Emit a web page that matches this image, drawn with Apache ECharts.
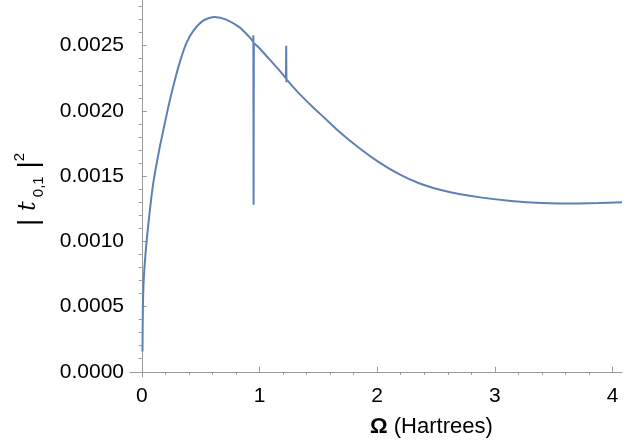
<!DOCTYPE html>
<html>
<head>
<meta charset="utf-8">
<script src="https://cdn.jsdelivr.net/npm/echarts@6/dist/echarts.min.js"></script>
<style>
  html, body { margin: 0; padding: 0; background: #fff; }
  #main { width: 634px; height: 446px; }
</style>
</head>
<body>
<div id="main"></div>
<script>
// values
var omega = [0.006, 0.009, 0.014, 0.023, 0.035, 0.051, 0.079, 0.10, 0.121, 0.15, 0.178, 0.223, 0.265, 0.322, 0.379,
  0.435, 0.519, 0.619, 0.718, 0.831, 0.90, 0.930,
  0.946, 0.948, 0.950, 0.952, 1.0, 1.08, 1.169, 1.225, 1.227, 1.229, 1.231, 1.34, 1.452, 1.56, 1.678, 1.847,
  2.017, 2.186, 2.356, 2.525, 2.695, 2.89, 3.1, 3.31, 3.6, 3.88, 4.08];
var t01sq = [0.000155, 0.00045, 0.00065, 0.00080, 0.00094, 0.00109, 0.00132, 0.00146, 0.00157, 0.00171, 0.00183, 0.00202, 0.00218, 0.00237, 0.00252,
  0.00261, 0.00269, 0.00272, 0.00270, 0.00264, 0.00258, 0.00255,
  0.00253, 0.00258, 0.00128, 0.00252, 0.00248, 0.00240, 0.00231, 0.00225, 0.00250, 0.00222, 0.00224, 0.00213, 0.00203, 0.00194, 0.00184, 0.001715,
  0.001605, 0.001515, 0.001445, 0.001397, 0.001363, 0.001335, 0.001313, 0.001298, 0.00129, 0.001294, 0.0013];
// index ranges of the narrow spikes (drawn without smoothing)
var spikes = [[22, 25], [29, 32]];

var xMajor = [0, 1, 2, 3, 4];
var xMinor = [0.2, 0.4, 0.6, 0.8, 1.2, 1.4, 1.6, 1.8, 2.2, 2.4, 2.6, 2.8, 3.2, 3.4, 3.6, 3.8];
var yMajor = [0, 0.0005, 0.001, 0.0015, 0.002, 0.0025];
var yMinor = [0.0001, 0.0002, 0.0003, 0.0004, 0.0006, 0.0007, 0.0008, 0.0009, 0.0011, 0.0012, 0.0013, 0.0014,
  0.0016, 0.0017, 0.0018, 0.0019, 0.0021, 0.0022, 0.0023, 0.0024, 0.0026, 0.0027, 0.0028];

var pts = omega.map(function (x, i) { return [x, t01sq[i]]; });

var axisGray = '#9a9a9a';
var font = 'Liberation Sans, Arial, sans-serif';
var lineColor = '#5e81b5';

// split the curve so the smooth parts are smoothed and the spikes stay sharp
var series = [];
var start = 0;
function seg(a, b, smooth) {
  series.push({
    type: 'line', data: pts.slice(a, b + 1), showSymbol: false, smooth: smooth,
    lineStyle: { color: lineColor, width: 2 }, clip: true
  });
}
spikes.forEach(function (s) {
  seg(start, s[0], 0.25);
  seg(s[0], s[1], false);
  start = s[1];
});
seg(start, pts.length - 1, 0.25);

var chart = echarts.init(document.getElementById('main'));

function xAx(major) {
  return {
    type: 'value', min: -0.1, max: 4.08,
    axisLine: { show: major, lineStyle: { color: axisGray, width: 1 } },
    splitLine: { show: false },
    axisTick: { show: true, inside: true, length: major ? 5 : 3, customValues: major ? xMajor : xMinor, lineStyle: { color: axisGray } },
    axisLabel: { show: major, customValues: xMajor, color: '#000', fontSize: 21, fontFamily: font, margin: 9 }
  };
}
function yAx(major) {
  return {
    type: 'value', min: -0.00004, max: 0.00285,
    axisLine: { show: major, lineStyle: { color: axisGray, width: 1 } },
    splitLine: { show: false },
    axisTick: { show: true, inside: true, length: major ? 5 : 3, customValues: major ? yMajor : yMinor, lineStyle: { color: axisGray } },
    axisLabel: {
      show: major, customValues: yMajor, color: '#000', fontSize: 21, fontFamily: font, margin: 6,
      formatter: function (v) { return v.toFixed(4); }
    }
  };
}

chart.setOption({
  animation: false,
  grid: { left: 130, right: 12, top: 0, bottom: 69 },
  xAxis: [xAx(true), xAx(false)],
  yAxis: [yAx(true), yAx(false)],
  series: series,
  graphic: [
    {
      type: 'text', left: 370, top: 416,
      style: {
        text: '{b|Ω} (Hartrees)',
        fill: '#000',
        rich: {
          b: { fontSize: 22, fontWeight: 'bold', fontFamily: font, fill: '#000' }
        },
        fontSize: 22, fontFamily: font
      }
    },
    {
      type: 'text', x: 12, y: 226, rotation: Math.PI / 2,
      style: {
        text: '{bar|| }{t|t}{sub| 0,1}{bar| |}{sup|2}',
        fill: '#000',
        rich: {
          bar: { fontSize: 28, fontFamily: font, fill: '#000', verticalAlign: 'middle', lineHeight: 34 },
          t: { fontSize: 24, fontStyle: 'italic', fontFamily: 'DejaVu Serif, serif', fill: '#000', verticalAlign: 'middle' },
          sub: { fontSize: 15, fontFamily: font, fill: '#000', verticalAlign: 'bottom' },
          sup: { fontSize: 15, fontFamily: font, fill: '#000', verticalAlign: 'top' }
        }
      }
    }
  ]
});
</script>
</body>
</html>
